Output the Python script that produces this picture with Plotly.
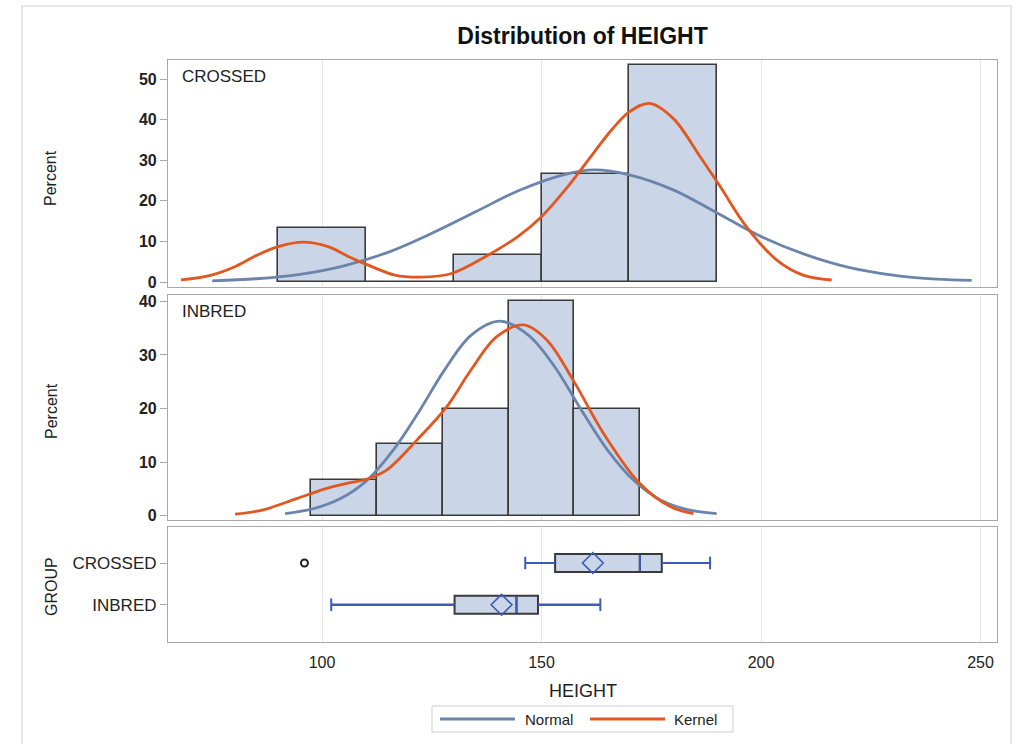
import plotly.graph_objects as go

# ---------------- data ----------------
groups = ["CROSSED", "INBRED"]

crossed_mid = [100, 120, 140, 160, 180]
crossed_pct = [13.33, 0.0, 6.67, 26.67, 53.33]
crossed_binw = 20

inbred_mid = [105, 120, 135, 150, 165]
inbred_pct = [6.67, 13.33, 20.0, 40.0, 20.0]
inbred_binw = 15

crossed_normal_x = [75, 85, 95, 105, 115, 125, 135, 145, 155, 162, 170, 180, 190, 200, 210, 220, 230, 240, 248]
crossed_normal_y = [0.3, 0.8, 1.9, 4.0, 7.3, 12.0, 17.3, 22.6, 26.4, 27.6, 26.4, 22.7, 17.0, 11.2, 6.8, 3.6, 1.7, 0.7, 0.4]

crossed_kernel_x = [67.9, 74.8, 80, 85, 90, 95.7, 101.4, 106, 110, 116.6, 122.6, 129.5, 137.8, 144.6, 150, 156,
                    161.8, 166, 170, 174.6, 180, 186.1, 190.7, 196.7, 203.6, 209.6, 216.1]
crossed_kernel_y = [0.5, 1.7, 3.7, 6.5, 8.7, 9.8, 8.7, 6.3, 4.4, 1.7, 1.2, 2.1, 6.6, 11.2, 16.1, 23.5,
                    31.7, 37.5, 41.9, 44.0, 40.3, 30.9, 23.5, 13.6, 5.4, 1.7, 0.5]

inbred_normal_x = [91.6, 98, 104, 110, 116, 122, 128, 134, 140.5, 147, 153, 159, 165, 171, 177, 183, 189.9]
inbred_normal_y = [0.4, 1.3, 3.1, 6.4, 12.0, 19.3, 27.3, 33.7, 36.3, 33.7, 27.8, 19.8, 12.3, 6.6, 3.0, 1.2, 0.4]

inbred_kernel_x = [80.2, 86.6, 94.2, 101.1, 106, 110.2, 114.7, 121.6, 128.4, 133.7, 139.8, 145.9, 151.2,
                   157.2, 164.1, 172.4, 179.3, 184.6]
inbred_kernel_y = [0.3, 1.1, 3.2, 5.1, 6.1, 6.8, 8.5, 14.1, 20.3, 26.9, 33.4, 35.6, 32.8,
                   25.3, 15.4, 6.0, 1.7, 0.4]

# box statistics (CROSSED, INBRED)
box_q1 = [153.1, 130.2]
box_median = [172.4, 144.3]
box_q3 = [177.4, 149.2]
box_low = [146.3, 102.1]
box_high = [188.4, 163.4]
box_mean = [161.7, 140.9]
outlier_group = ["CROSSED"]
outlier_value = [96.0]

x_ticks = [100, 150, 200, 250]
y1_ticks = [0, 10, 20, 30, 40, 50]
y2_ticks = [0, 10, 20, 30, 40]
legend_names = ["Normal", "Kernel"]

# ---------------- styles ----------------
FONT = "Liberation Sans, Arial, sans-serif"
TXT = "#222222"
BAR_FILL = "#cad6e7"
BAR_LINE = "#3a3a3a"
NORMAL_C = "#6a84ab"
KERNEL_C = "#e2571f"
WHISK_C = "#3d5cb8"
FRAME_C = "#a8a8a8"
GRID_C = "#e8e8e8"
BOX_W = 0.43

fig = go.Figure()

def hist_panel(mid, pct, bw, nx, ny, kx, ky, xa, ya):
    fig.add_trace(go.Bar(x=mid, y=pct, width=bw, xaxis=xa, yaxis=ya, showlegend=False,
                         marker=dict(color=BAR_FILL, line=dict(color=BAR_LINE, width=1.6)),
                         hoverinfo="x+y"))
    fig.add_trace(go.Scatter(x=nx, y=ny, mode="lines", name=legend_names[0], showlegend=False,
                             xaxis=xa, yaxis=ya,
                             line=dict(color=NORMAL_C, width=2.8, shape="spline", smoothing=1.0)))
    fig.add_trace(go.Scatter(x=kx, y=ky, mode="lines", name=legend_names[1], showlegend=False,
                             xaxis=xa, yaxis=ya,
                             line=dict(color=KERNEL_C, width=2.8, shape="spline", smoothing=1.0)))

hist_panel(crossed_mid, crossed_pct, crossed_binw, crossed_normal_x, crossed_normal_y,
           crossed_kernel_x, crossed_kernel_y, "x", "y")
hist_panel(inbred_mid, inbred_pct, inbred_binw, inbred_normal_x, inbred_normal_y,
           inbred_kernel_x, inbred_kernel_y, "x2", "y2")

# box plot panel
n = len(groups)
for i, g in enumerate(groups):
    pos = n - 1 - i
    fig.add_trace(go.Box(y=[pos], q1=[box_q1[i]], median=[box_median[i]], q3=[box_q3[i]],
                         lowerfence=[box_low[i]], upperfence=[box_high[i]],
                         orientation="h", width=BOX_W, whiskerwidth=0,
                         fillcolor=BAR_FILL, line=dict(color=BAR_LINE, width=2),
                         xaxis="x3", yaxis="y3", showlegend=False, hoverinfo="skip"))
    for a, b in ((box_low[i], box_q1[i]), (box_q3[i], box_high[i])):
        fig.add_trace(go.Scatter(x=[a, b], y=[pos, pos], mode="lines", xaxis="x3", yaxis="y3",
                                 line=dict(color=WHISK_C, width=2), showlegend=False, hoverinfo="skip"))
    fig.add_trace(go.Scatter(x=[box_low[i], box_high[i]], y=[pos, pos], mode="markers",
                             xaxis="x3", yaxis="y3", showlegend=False, hoverinfo="skip",
                             marker=dict(symbol="line-ns", size=9, color=WHISK_C,
                                         line=dict(color=WHISK_C, width=2))))
    fig.add_trace(go.Scatter(x=[box_median[i], box_median[i]],
                             y=[pos - BOX_W / 2 + 0.02, pos + BOX_W / 2 - 0.02],
                             mode="lines", xaxis="x3", yaxis="y3", showlegend=False, hoverinfo="skip",
                             line=dict(color=WHISK_C, width=2)))
    fig.add_trace(go.Scatter(x=[box_mean[i]], y=[pos], mode="markers", xaxis="x3", yaxis="y3",
                             showlegend=False, hoverinfo="skip",
                             marker=dict(symbol="diamond-open", size=16, color=WHISK_C,
                                         line=dict(color=WHISK_C, width=1.6))))

fig.add_trace(go.Scatter(x=outlier_value, y=[n - 1 - groups.index(g) for g in outlier_group],
                         mode="markers", xaxis="x3", yaxis="y3", showlegend=False,
                         marker=dict(symbol="circle-open", size=7, color=TXT, line=dict(color=TXT, width=2))))

# ---------------- layout ----------------
L, R, T, B = 168, 23, 60, 102
W, H = 1020, 744
PH = H - T - B
PW = W - L - R

def py(pix):
    return (H - B - pix) / PH

def px(pix):
    return (pix - L) / PW

xr = [64.92, 253.76]
base_x = dict(range=xr, tickvals=x_ticks, showgrid=True, gridcolor=GRID_C, gridwidth=1,
              showline=True, mirror=True, linecolor=FRAME_C, linewidth=1.2, zeroline=False)
base_y = dict(showgrid=False, showline=True, mirror=True, linecolor=FRAME_C, linewidth=1.2,
              zeroline=False, ticks="outside", ticklen=7, tickcolor=FRAME_C, tickwidth=1,
              tickfont=dict(size=16, color=TXT, family=FONT))

fig.update_layout(
    width=W, height=H,
    margin=dict(l=L, r=R, t=T, b=B, autoexpand=False),
    paper_bgcolor="white", plot_bgcolor="white",
    font=dict(family=FONT, color=TXT, size=16),
    title=dict(text="<b>Distribution of HEIGHT</b>", x=0.5, xref="paper", xanchor="center",
               y=1 - 36 / H, yref="container", yanchor="middle",
               font=dict(size=23, color="#111111", family=FONT)),
    xaxis=dict(base_x, domain=[0, 1], anchor="y", showticklabels=False, ticks=""),
    xaxis2=dict(base_x, domain=[0, 1], anchor="y2", matches="x", showticklabels=False, ticks=""),
    xaxis3=dict(base_x, domain=[0, 1], anchor="y3", matches="x", showticklabels=True,
                ticks="outside", ticklen=6, tickcolor="rgba(0,0,0,0)",
                tickfont=dict(size=16, color=TXT, family=FONT)),
    yaxis=dict(base_y, domain=[py(287), 1.0], anchor="x", range=[-1.23, 54.68],
               tickvals=y1_ticks, ticktext=[f"<b>{v}</b>" for v in y1_ticks]),
    yaxis2=dict(base_y, domain=[py(520), py(295)], anchor="x2", range=[-0.8, 41.18],
                tickvals=y2_ticks, ticktext=[f"<b>{v}</b>" for v in y2_ticks]),
    yaxis3=dict(base_y, domain=[0, py(527)], anchor="x3", range=[-0.894, 1.863],
                tickvals=[n - 1 - i for i in range(n)], ticktext=groups,
                tickfont=dict(size=17, color=TXT, family=FONT)),
    barmode="overlay",
    bargap=0,
    showlegend=False,
)

def txt(text, x, y, size, xanchor="left", angle=0):
    return dict(text=text, x=px(x), y=py(y), xref="paper", yref="paper", xanchor=xanchor,
                yanchor="middle", textangle=angle, showarrow=False,
                font=dict(size=size, color=TXT, family=FONT))

annotations = [
    txt(groups[0], 180, 76, 17),
    txt(groups[1], 180, 311, 17),
    txt("Percent", 51, 178, 16, "center", -90),
    txt("Percent", 51, 411, 16, "center", -90),
    txt("GROUP", 51, 587, 16, "center", -90),
    txt("HEIGHT", 583, 691, 18, "center"),
    # legend texts
    txt(legend_names[0], 523, 719, 15),
    txt(legend_names[1], 672, 719, 15),
]
fig.update_layout(annotations=annotations)

shapes = [
    # outer light frame
    dict(type="rect", xref="paper", yref="paper", x0=px(22), x1=px(1011), y0=py(770), y1=py(6),
         line=dict(color="#d4d4d4", width=1.2), fillcolor="rgba(0,0,0,0)", layer="below"),
    # legend box
    dict(type="rect", xref="paper", yref="paper", x0=px(432), x1=px(733), y0=py(732), y1=py(706),
         line=dict(color="#cfcfcf", width=1), fillcolor="white", layer="above"),
    dict(type="line", xref="paper", yref="paper", x0=px(440), x1=px(515), y0=py(719), y1=py(719),
         line=dict(color=NORMAL_C, width=3), layer="above"),
    dict(type="line", xref="paper", yref="paper", x0=px(590), x1=px(665), y0=py(719), y1=py(719),
         line=dict(color=KERNEL_C, width=3), layer="above"),
]
fig.update_layout(shapes=shapes)

fig.write_html("out.html", config={"displayModeBar": False},
               post_script="document.body.style.margin='0';document.body.style.overflow='hidden';")
